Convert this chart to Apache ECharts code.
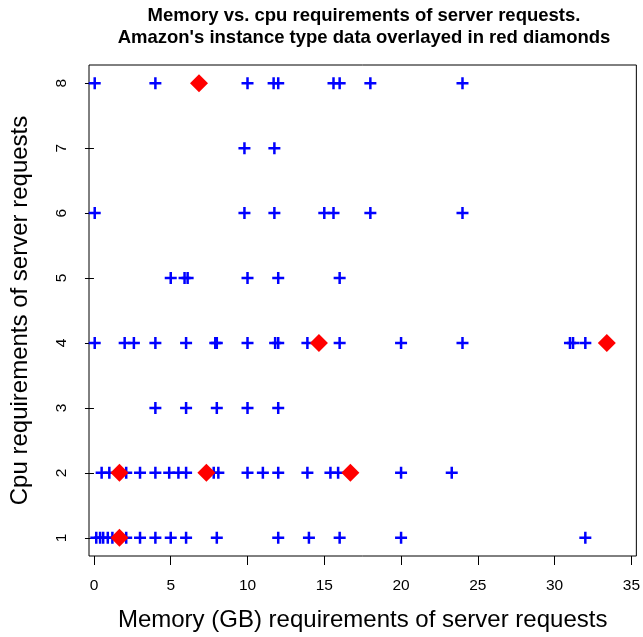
<!DOCTYPE html>
<html>
<head>
<meta charset="utf-8">
<script src="https://cdn.jsdelivr.net/npm/echarts@6/dist/echarts.min.js"></script>
<style>
html, body { margin: 0; padding: 0; background: #fff; }
#main { width: 643px; height: 637px; }
</style>
</head>
<body>
<div id="main"></div>
<script>
// memory (GB) of server requests, one list per cpu count
var cpuLevels = [1, 2, 3, 4, 5, 6, 7, 8];
var cpu1Mem = [0.15, 0.4, 0.6, 0.9, 1.2, 2.1, 3, 4, 5, 6, 8, 12, 14, 16, 20, 32];
var cpu2Mem = [0.5, 1.0, 2.1, 3, 4, 4.9, 5.5, 6, 7.8, 8.1, 10, 11, 12, 13.9, 15.4, 15.9, 20, 23.3];
var cpu3Mem = [4, 6, 8, 10, 12];
var cpu4Mem = [0.05, 2, 2.6, 4, 6, 7.9, 8, 10, 11.8, 12, 13.9, 16, 20, 24, 31, 31.2, 32];
var cpu5Mem = [5, 5.9, 6.1, 10, 12, 16];
var cpu6Mem = [0.05, 9.8, 11.75, 15, 15.6, 18, 24];
var cpu7Mem = [9.8, 11.75];
var cpu8Mem = [0.05, 4, 10, 11.7, 12, 15.6, 16, 18, 24];

// amazon instance types
var amazonMem = [1.66, 1.66, 7.32, 16.70, 14.65, 33.40, 6.84];
var amazonCpu = [1, 2, 2, 2, 4, 4, 8];

var xTicks = [0, 5, 10, 15, 20, 25, 30, 35];
var yTicks = [1, 2, 3, 4, 5, 6, 7, 8];

var memLists = [cpu1Mem, cpu2Mem, cpu3Mem, cpu4Mem, cpu5Mem, cpu6Mem, cpu7Mem, cpu8Mem];
var requests = [];
memLists.forEach(function (list, i) {
    list.forEach(function (m) { requests.push([m, cpuLevels[i]]); });
});
var amazon = amazonMem.map(function (m, i) { return [m, amazonCpu[i]]; });

var font = 'Liberation Sans';
var chart = echarts.init(document.getElementById('main'), null, {renderer: 'canvas'});

chart.setOption({
    animation: false,
    textStyle: {fontFamily: font},
    title: {
        text: 'Memory vs. cpu requirements of server requests.\nAmazon\'s instance type data overlayed in red diamonds',
        left: 364,
        top: 5,
        padding: 0,
        textAlign: 'center',
        textStyle: {fontFamily: font, fontSize: 18.5, fontWeight: 'bold', color: '#000', lineHeight: 22}
    },
    grid: {
        left: 87, right: 5, top: 65, bottom: 79,
        show: true, borderColor: '#000', borderWidth: 1, backgroundColor: 'transparent'
    },
    xAxis: {
        type: 'value',
        min: -0.323, max: 35.323,
        name: 'Memory (GB) requirements of server requests',
        nameLocation: 'middle',
        nameGap: 52,
        nameTextStyle: {fontFamily: font, fontSize: 24, color: '#000'},
        axisLine: {show: false},
        splitLine: {show: false},
        axisTick: {show: true, length: 9, customValues: xTicks, lineStyle: {color: '#000'}},
        axisLabel: {customValues: xTicks, margin: 22, fontSize: 15.5, color: '#000', fontFamily: font}
    },
    yAxis: {
        type: 'value',
        min: 0.72, max: 8.28,
        name: 'Cpu requirements of server requests',
        nameLocation: 'middle',
        nameRotate: 90,
        nameGap: 57,
        nameTextStyle: {fontFamily: font, fontSize: 24, color: '#000'},
        axisLine: {show: false},
        splitLine: {show: false},
        axisTick: {show: true, length: 9, customValues: yTicks, lineStyle: {color: '#000'}},
        axisLabel: {customValues: yTicks, rotate: 90, margin: 19, fontSize: 15.5, color: '#000', fontFamily: font}
    },
    series: [
        {
            type: 'scatter',
            data: requests,
            clip: false,
            symbol: 'path://M4.75,0H7.25V4.75H12V7.25H7.25V12H4.75V7.25H0V4.75H4.75Z',
            symbolSize: 12,
            itemStyle: {color: '#0000ff', opacity: 1}
        },
        {
            type: 'scatter',
            data: amazon,
            clip: false,
            symbol: 'diamond',
            symbolSize: 18,
            itemStyle: {color: '#ff0000', opacity: 1}
        }
    ]
});
</script>
</body>
</html>
